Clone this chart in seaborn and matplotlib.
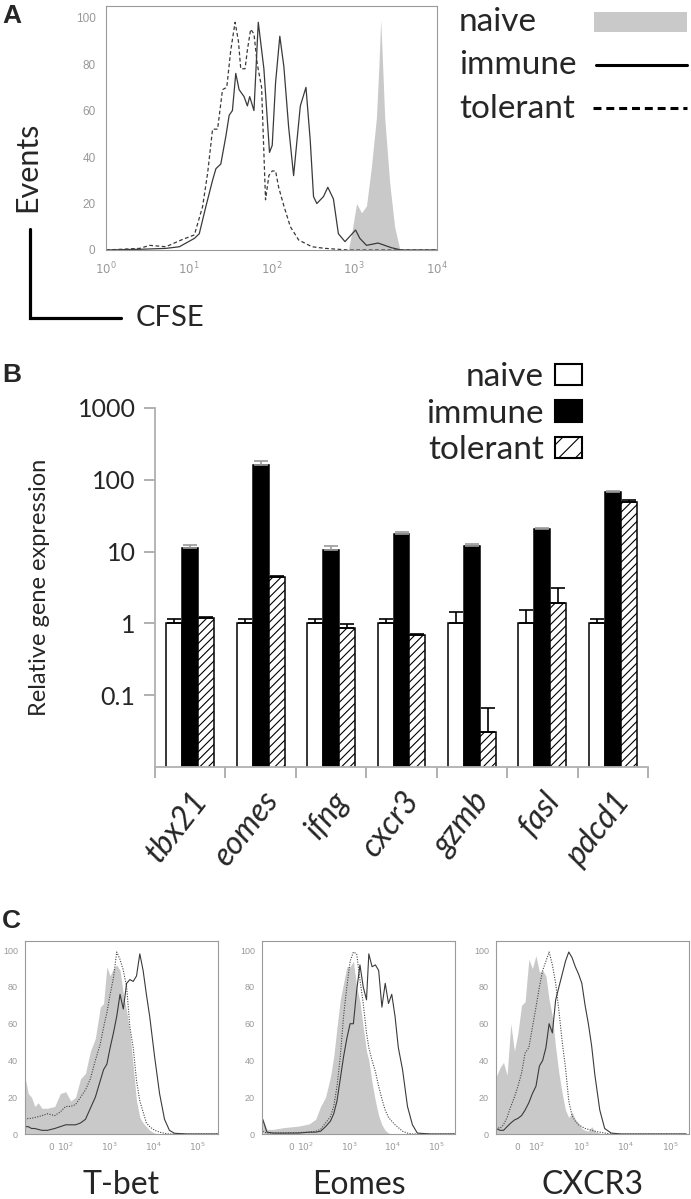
import pandas as pd
import matplotlib
matplotlib.use("Agg")
import matplotlib.pyplot as plt
import seaborn as sns
from matplotlib.patches import Patch, Rectangle
from matplotlib.lines import Line2D
from matplotlib import ticker

sns.set_style("white")
plt.rcParams['font.family'] = ['Lato', 'DejaVu Sans']
plt.rcParams['hatch.linewidth'] = 0.8

# ---------- A : CFSE dilution ----------
cfse_immune_x = [1, 2.56, 5.3, 7.7, 11.7, 13.4, 16.1, 19.4, 21.3, 24.4, 28.1, 30.8, 33.7, 37.0,
                 40.6, 46.6, 51.1, 54.5, 61.4, 69.2, 80.9, 94.6, 102, 112, 126, 141, 161, 185,
                 203, 223, 261, 294, 322, 353, 425, 479, 560, 643, 773, 1038, 1169, 1406, 1941,
                 2805, 3698, 10000]
cfse_immune_y = [0, 0.3, 0.7, 1.4, 5, 7, 18.7, 30, 35, 37, 49, 58, 60, 76,
                 69, 66, 62, 66, 60, 98, 78, 42, 45, 72, 92, 79, 53, 32,
                 47, 62, 70, 47, 23, 20, 23, 27, 22, 7, 3.6, 8.6, 5, 2, 3,
                 1, 0, 0]
cfse_tol_x = [1, 2.56, 3.37, 5.3, 8.1, 11.7, 14.7, 16.9, 19.4, 22.3, 25.6, 28.8, 32.2, 36.3,
              39.8, 42.5, 47.9, 51.1, 56, 61.4, 67.3, 75.9, 84.7, 92.9, 102, 112, 122, 141,
              169, 213, 308, 445, 847, 10000]
cfse_tol_y = [0, 0.7, 2, 1.4, 4.3, 6.5, 18.7, 33, 52, 52, 69, 70, 86, 98,
              90, 78, 78, 86, 95, 93, 80, 70, 21.6, 32, 34, 34, 27, 19,
              10, 4.3, 1.4, 0.7, 0, 0]
cfse_naive_x = [847, 929, 1067, 1225, 1406, 1614, 1854, 1990, 2089, 2200, 2333, 2679, 3076, 3532, 3873]
cfse_naive_y = [0, 7, 20, 16, 19, 36, 57, 80, 99, 80, 57, 29, 10, 0.7, 0]

# ---------- B : qPCR ----------
genes = ['tbx21', 'eomes', 'ifng', 'cxcr3', 'gzmb', 'fasl', 'pdcd1']
groups = ['naive', 'immune', 'tolerant']
naive_expr = [1, 1, 1, 1, 1, 1, 1]
naive_err = [0.15, 0.15, 0.15, 0.15, 0.45, 0.55, 0.15]
immune_expr = [11.4, 160, 10.4, 17.8, 12.0, 20.5, 68]
immune_err = [0.8, 20, 1.5, 1.0, 0.6, 0.8, 2]
tolerant_expr = [1.2, 4.4, 0.87, 0.70, 0.031, 1.9, 49]
tolerant_err = [0.03, 0.2, 0.11, 0.02, 0.035, 1.25, 3]

# ---------- C : flow histograms ----------
tbet_x = [-183, -154, -130, -109, -88, -63, -25, 25, 63, 100, 130, 168, 218, 283, 366, 475,
          616, 732, 871, 1035, 1231, 1463, 1740, 2070, 2460, 2925, 3477, 4137, 4919, 5850,
          6950, 8270, 10720, 13900, 18030, 23350, 30270, 60500, 300000]
tbet_naive = [31, 22, 20, 15, 17, 14, 14, 15, 22, 23, 18, 20, 30, 33, 45, 52, 69, 71, 91, 86,
              90, 92, 89, 76, 67, 55, 37, 18, 9, 6, 4, 2, 0.5, 0, 0, 0, 0, 0, 0]
tbet_tol = [7.6, 8.5, 8.5, 9, 9.4, 10, 11, 10, 12, 15, 15, 16, 20, 24, 30, 40, 49, 58, 66, 76,
            85, 99, 95, 89, 80, 58, 47, 29, 18, 12, 6, 4, 2, 1, 0.4, 0, 0, 0, 0]
tbet_imm = [4, 4, 3, 3, 2.5, 2, 2, 3, 4, 5, 5, 5, 6, 8, 14, 20, 29, 35, 38, 47,
            55, 64, 76, 68, 82, 84, 83, 86, 98, 89, 76, 64, 42, 22, 8, 2, 0.4, 0, 0]

eomes_x = [-210, -168, -119, -50, 50, 119, 168, 218, 283, 366, 436, 518, 616, 732, 871, 1035,
           1231, 1463, 1740, 2070, 2460, 2780, 3300, 3930, 4670, 5550, 6600, 7850, 9330,
           11100, 13200, 16500, 21400, 27800, 36000, 71900, 260000]
eomes_naive = [8.5, 2.5, 2.5, 3.5, 4.3, 5.5, 8, 15, 20, 31, 42, 58, 73, 82, 91, 91, 94, 80, 72,
               58, 45, 40, 28, 18, 10, 5, 2, 0.5, 0, 0, 0, 0, 0, 0, 0, 0, 0]
eomes_tol = [1.5, 0.5, 0.5, 0.5, 0.8, 1, 1.5, 2.5, 6, 9.4, 15, 26, 42, 64, 80, 94, 99, 98, 84,
             71, 55, 47, 40, 34, 26, 19, 13, 9, 7, 5, 3.5, 1.5, 0.5, 0, 0, 0, 0]
eomes_imm = [8, 1, 0.5, 0.5, 0.5, 1, 1, 1.5, 4, 7, 11, 18, 30, 42, 52, 60, 60, 78, 92, 80,
             73, 98, 91, 92, 89, 69, 82, 71, 76, 64, 47, 35, 15, 5, 0.5, 0, 0]

cxcr3_x = [-118, -96, -77, -58, -38, -19, 0, 19, 38, 58, 77, 96, 115, 136, 161, 190, 225, 267,
           316, 375, 444, 526, 623, 738, 874, 1035, 1225, 1452, 1720, 2037, 2625, 3380, 4745,
           7890, 30500, 233000]
cxcr3_naive = [31, 36, 39, 32, 60, 45, 55, 70, 72, 95, 90, 97, 88, 89, 86, 73, 64, 47, 33, 22,
               13, 9, 12, 8, 6, 3, 2, 1.5, 4, 1.5, 0.5, 0, 0, 0, 0, 0]
cxcr3_tol = [4, 3, 5, 9, 15, 20, 26, 33, 44, 47, 58, 69, 80, 89, 94, 99, 92, 82, 67, 50,
             36, 18, 10, 7, 5, 4, 3, 2.5, 2, 1.5, 1, 0.5, 0, 0, 0, 0]
cxcr3_imm = [3, 2, 2, 4, 6, 7.6, 8.5, 10, 13, 17, 22, 26, 37, 40, 47, 60, 55, 73, 80, 87,
             94, 99, 96, 91, 87, 82, 70, 60, 48, 32, 13, 3, 0.5, 0, 0, 0]

NAIVE_GREY = '#c9c9c9'
LINE = '#3a3a3a'
FRAME = '#9a9a9a'
W, H = 691, 1199

fig = plt.figure(figsize=(W / 100, H / 100), dpi=100)


def fx(px):
    return px / W


def fy(py):
    return 1 - py / H


def px_axes(left, top, right, bottom):
    return fig.add_axes([fx(left), fy(bottom), (right - left) / W, (bottom - top) / H])


def frame(ax):
    for s in ax.spines.values():
        s.set_visible(True)
        s.set_color(FRAME)
        s.set_linewidth(0.8)


# ================= panel A =================
axA = px_axes(106, 6, 437, 250)
axA.set_xscale('log')
axA.fill_between(cfse_naive_x, cfse_naive_y, color=NAIVE_GREY, lw=0)
sns.lineplot(x=cfse_tol_x, y=cfse_tol_y, ax=axA, color=LINE, lw=0.9, ls=(0, (3, 2)),
             sort=False, estimator=None)
sns.lineplot(x=cfse_immune_x, y=cfse_immune_y, ax=axA, color=LINE, lw=0.9,
             sort=False, estimator=None)
axA.set_xlim(1, 1e4)
axA.set_ylim(0, 105)
axA.set_yticks([0, 20, 40, 60, 80, 100])
axA.yaxis.set_minor_locator(ticker.MultipleLocator(4))
axA.set_xticks([1, 10, 100, 1000, 10000])
axA.set_xticklabels(['$10^0$', '$10^1$', '$10^2$', '$10^3$', '$10^4$'])
axA.xaxis.set_minor_locator(ticker.LogLocator(base=10, subs=range(2, 10)))
axA.tick_params(which='both', direction='out', color=FRAME, labelcolor='#999999',
                labelsize=8.5, width=0.7)
axA.tick_params(which='major', length=4)
axA.tick_params(which='minor', length=2)
for lab in axA.get_yticklabels():
    lab.set_fontfamily(['Liberation Sans'])
axA.set_xlabel('')
axA.set_ylabel('')
frame(axA)

# Events / CFSE corner
fig.text(fx(27), fy(167), 'Events', rotation=90, fontsize=22, ha='center', va='center')
fig.add_artist(Line2D([fx(30), fx(30), fx(121)], [fy(229), fy(318), fy(318)],
                      color='black', lw=2.3, transform=fig.transFigure,
                      solid_joinstyle='miter'))
fig.text(fx(136), fy(318), 'CFSE', fontsize=21, ha='left', va='center')

# legend A (text left, keys right)
legA_rows = [('naive', 31), ('immune', 74), ('tolerant', 118)]
for name, base in legA_rows:
    fig.text(fx(459), fy(base), name, fontsize=24, ha='left', va='baseline')
fig.add_artist(Rectangle((fx(594), fy(32)), (687 - 594) / W, 20 / H, transform=fig.transFigure,
                         facecolor=NAIVE_GREY, edgecolor='none'))
fig.add_artist(Line2D([fx(596), fx(687)], [fy(65), fy(65)], color='black', lw=2.2,
                      transform=fig.transFigure))
fig.add_artist(Line2D([fx(593), fx(687)], [fy(108), fy(108)], color='black', lw=2.2,
                      ls=(0, (2.6, 1.6)), transform=fig.transFigure))

# ================= panel B =================
axB = px_axes(155, 408, 648, 767)
axB.set_yscale('log')
df_b = pd.DataFrame({
    'gene': genes * 3,
    'group': ['naive'] * 7 + ['immune'] * 7 + ['tolerant'] * 7,
    'expr': naive_expr + immune_expr + tolerant_expr,
})
pal = {'naive': 'white', 'immune': 'black', 'tolerant': 'white'}
sns.barplot(data=df_b, x='gene', y='expr', hue='group', order=genes, hue_order=groups,
            palette=pal, saturation=1, width=0.68, edgecolor='black', linewidth=1.1,
            errorbar=None, legend=False, ax=axB)
for p in axB.containers[2].patches:
    p.set_hatch('////')

for cont, vals, errs, col in zip(axB.containers,
                                 [naive_expr, immune_expr, tolerant_expr],
                                 [naive_err, immune_err, tolerant_err],
                                 ['black', '#9a9a9a', 'black']):
    xs = [p.get_x() + p.get_width() / 2 for p in cont.patches]
    axB.errorbar(xs, vals, yerr=[[0] * len(vals), errs], fmt='none', ecolor=col,
                 elinewidth=1.2, capsize=5, capthick=1.2)

axB.set_xlim(-0.5, 6.5)
axB.set_ylim(0.01, 1000)
axB.set_yticks([0.1, 1, 10, 100, 1000])
axB.set_yticklabels(['0.1', '1', '10', '100', '1000'])
axB.yaxis.set_minor_locator(ticker.NullLocator())
axB.set_xticks(range(7))
axB.set_xticklabels(genes, rotation=52, ha='right', rotation_mode='anchor',
                    style='italic', fontsize=23)
axB.set_xticks([i - 0.5 for i in range(8)], minor=True)
axB.tick_params(axis='y', which='major', length=8, width=1.3, color='#aaaaaa',
                labelsize=18, pad=6, left=True)
axB.tick_params(axis='x', which='major', length=0, pad=14)
axB.tick_params(axis='x', which='minor', length=8, width=1.3, color='#aaaaaa', bottom=True)
axB.set_xlabel('')
axB.set_ylabel('Relative gene expression', fontsize=17, labelpad=20)
for side in ['top', 'right']:
    axB.spines[side].set_visible(False)
for side in ['left', 'bottom']:
    axB.spines[side].set_color('#b0b0b0')
    axB.spines[side].set_linewidth(1.3)

legB_handles = [Patch(facecolor='white', edgecolor='black', lw=1.5),
                Patch(facecolor='black', edgecolor='black', lw=1.5),
                Patch(facecolor='white', edgecolor='black', lw=1.5, hatch='//')]
axB.legend(legB_handles, groups, loc='upper right', bbox_to_anchor=(fx(582), fy(362)),
           bbox_transform=fig.transFigure, frameon=False, markerfirst=False, fontsize=24,
           handlelength=0.8, handleheight=0.6, handletextpad=0.35, labelspacing=0.2,
           borderpad=0, borderaxespad=0)

# ================= panel C =================
flow_panels = [
    (25, 218, tbet_x, tbet_naive, tbet_imm, tbet_tol, 0.3, (-183, 3.0e5), 'T-bet'),
    (262, 455, eomes_x, eomes_naive, eomes_imm, eomes_tol, 0.3, (-218, 2.63e5), 'Eomes'),
    (496, 689, cxcr3_x, cxcr3_naive, cxcr3_imm, cxcr3_tol, 0.38, (-118, 2.67e5), 'CXCR3'),
]
for left, right, x, naive, imm, tol, lsc, xlim, name in flow_panels:
    ax = px_axes(left, 941, right, 1134)
    ax.set_xscale('symlog', linthresh=100, linscale=lsc)
    ax.fill_between(x, naive, color=NAIVE_GREY, lw=0)
    sns.lineplot(x=x, y=tol, ax=ax, color='#444444', lw=0.8, ls=(0, (1, 1.3)),
                 sort=False, estimator=None)
    sns.lineplot(x=x, y=imm, ax=ax, color=LINE, lw=0.8, sort=False, estimator=None)
    ax.set_xlim(*xlim)
    ax.set_ylim(0, 105)
    ax.set_yticks([0, 20, 40, 60, 80, 100])
    ax.yaxis.set_minor_locator(ticker.MultipleLocator(4))
    ax.set_xticks([0, 100, 1e3, 1e4, 1e5])
    ax.set_xticklabels(['$0$', '$10^2$', '$10^3$', '$10^4$', '$10^5$'])
    ax.xaxis.set_minor_locator(ticker.SymmetricalLogLocator(base=10, linthresh=100,
                                                            subs=range(2, 10)))
    ax.tick_params(which='both', direction='out', color=FRAME, labelcolor='#999999',
                   labelsize=6.5, width=0.6, pad=2)
    ax.tick_params(which='major', length=3)
    ax.tick_params(which='minor', length=1.5)
    for lab in ax.get_yticklabels():
        lab.set_fontfamily(['Liberation Sans'])
    ax.set_xlabel('')
    ax.set_ylabel('')
    frame(ax)
    fig.text(fx((left + right) / 2), fy(1185), name, fontsize=23, ha='center', va='center')

# panel letters
for letter, y in [('A', 16), ('B', 375), ('C', 921)]:
    fig.text(fx(2), fy(y), letter, fontsize=19, fontweight='bold', ha='left', va='center',
             family=['Liberation Sans'])

fig.savefig('out.png', dpi=100)
